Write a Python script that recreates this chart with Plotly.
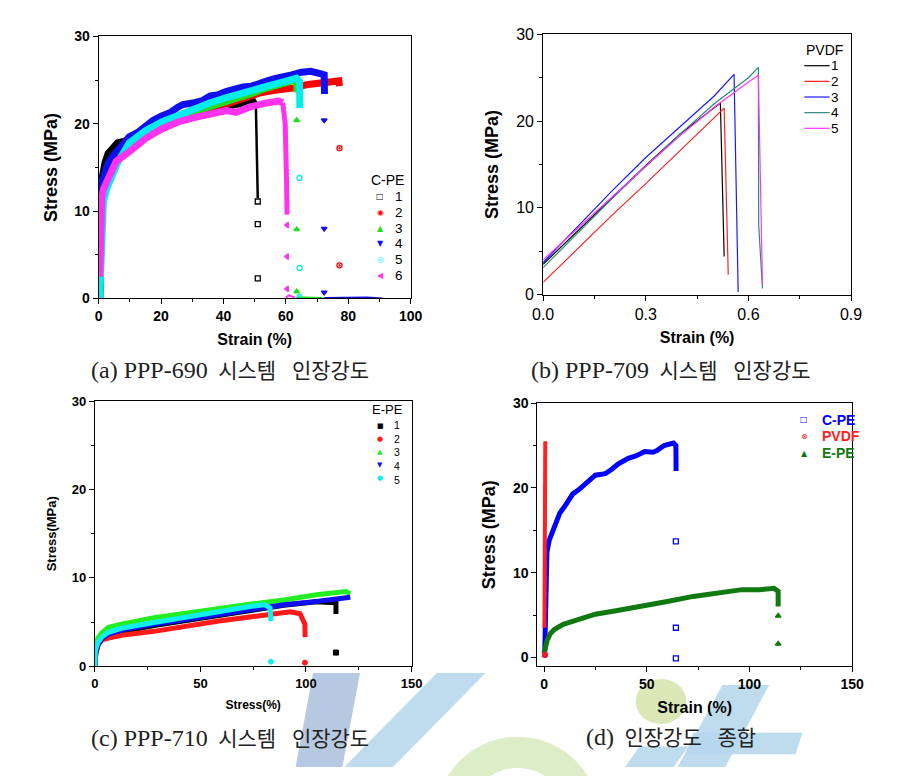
import plotly.graph_objects as go

W, H = 905, 776

# ---------------- (a) PPP-690 : C-PE ----------------
a_title = "C-PE"
a_names = ["1", "2", "3", "4", "5", "6"]
a1_x = [0.3, 0.5, 0.8, 1.2, 2.0, 3.0, 4.5, 6.0, 8.3, 12, 20, 30, 40, 46, 49.4, 50.4]
a1_y = [0.0, 8.0, 12.5, 14.0, 15.5, 16.6, 17.2, 17.8, 18.0, 18.6, 20.0, 21.2, 22.0, 22.4, 22.6, 22.0]
a1_dx = [50.4, 50.8, 51.0]
a1_dy = [22.0, 16.0, 11.5]
a1_px = [51.0, 51.0, 51.0]
a1_py = [11.1, 8.5, 2.3]

a2_x = [0.3, 0.5, 0.8, 1.5, 3, 6, 10, 20, 30, 39, 43.1, 47, 51.5, 57.7, 62.9, 67.1, 72.3, 77.0, 77.2]
a2_y = [0, 7, 11, 13, 14.8, 16.5, 17.8, 19.8, 21.0, 22.05, 22.6, 23.0, 23.5, 23.9, 24.1, 24.5, 24.7, 24.9, 24.3]
a2_px = [77.2, 77.2]
a2_py = [17.2, 3.8]

a3_x = [0.3, 0.5, 0.8, 1.5, 3, 6, 10, 20, 30, 33.8, 40, 46.3, 49.4, 53, 57.7, 62.9, 63.5, 63.6]
a3_y = [0, 7, 11, 13, 14.8, 16.4, 17.8, 20.2, 21.3, 21.7, 22.3, 23.0, 23.5, 24.0, 24.5, 25.0, 24.8, 23.6]
a3_px = [63.5, 63.5, 63.5]
a3_py = [20.4, 7.9, 0.8]
a3_tx = [63.5, 68, 72]
a3_ty = [0.15, 0.1, 0.05]

a4_x = [0.3, 0.5, 0.8, 1.2, 2, 3, 5, 7, 9.8, 12.5, 15, 17.5, 20.2, 23, 25.4, 27, 30.6, 33, 35.8, 38, 41, 43.5,
        46.3, 49, 51.5, 54, 56.7, 59, 61.9, 65, 68, 71.3, 72.3, 72.4]
a4_y = [0, 8, 12, 13.5, 14.6, 15.5, 16.5, 17.4, 18.5, 19.0, 19.8, 20.4, 20.9, 21.3, 21.9, 22.2, 22.4, 22.6, 23.2, 23.3,
        23.7, 24.0, 24.2, 24.3, 24.7, 24.9, 25.2, 25.3, 25.6, 25.9, 26.0, 25.7, 25.6, 23.4]
a4_px = [72.3, 72.3, 72.3]
a4_py = [20.4, 8.0, 0.7]
a4_tx = [72.3, 80, 86, 91]
a4_ty = [0.05, 0.05, 0.1, 0.0]

a5_x = [0.3, 0.6, 1.0, 1.5, 2.5, 3.5, 6, 9.8, 15, 20.2, 25.4, 30.6, 35.8, 41, 46.3, 51.5, 55, 59.8, 63.4, 64.4, 64.5]
a5_y = [0, 2.5, 8, 11, 12.5, 13.5, 15.5, 17.8, 19.2, 20.2, 21.0, 21.7, 22.4, 23.0, 23.6, 24.1, 24.4, 24.85, 25.2, 24.8, 21.8]
a5_px = [64.4, 64.4, 64.4]
a5_py = [13.8, 3.5, 0.15]

a6_x = [0.3, 0.5, 1.0, 1.5, 2.5, 3.5, 5.6, 9.8, 15, 20.2, 25.4, 30.6, 35.8, 41, 44, 48.3, 53.5, 57.7, 59.0]
a6_y = [2.5, 8, 11.5, 12.5, 13.3, 14.3, 15.7, 16.8, 18.3, 19.4, 20.2, 20.7, 21.1, 21.5, 21.3, 21.9, 22.35, 22.6, 22.4]
a6_dx = [59.0, 59.8, 60.2, 60.4]
a6_dy = [22.4, 20.0, 14.0, 9.6]
a6_px = [60.4, 60.4, 60.4]
a6_py = [8.4, 4.8, 1.1]
a6_tx = [60, 61, 63]
a6_ty = [0.1, 0.35, 0.1]

# ---------------- (b) PPP-709 : PVDF ----------------
b_title = "PVDF"
b_names = ["1", "2", "3", "4", "5"]
b1_x = [0, 0.1, 0.2, 0.3, 0.4, 0.5, 0.518, 0.529]
b1_y = [3.5, 7.3, 11.2, 14.9, 18.5, 21.6, 22.1, 4.4]
b2_x = [0, 0.1, 0.2, 0.3, 0.4, 0.5, 0.529, 0.541]
b2_y = [1.4, 5.3, 9.1, 12.8, 16.6, 20.4, 21.5, 2.3]
b3_x = [0, 0.1, 0.2, 0.3, 0.4, 0.5, 0.558, 0.570]
b3_y = [3.7, 7.8, 11.9, 15.8, 19.4, 22.9, 25.4, 0.3]
b4_x = [0, 0.1, 0.2, 0.3, 0.4, 0.5, 0.6, 0.629, 0.630, 0.641]
b4_y = [3.1, 7.1, 11.0, 14.8, 18.5, 22.0, 25.0, 26.2, 8.0, 0.7]
b5_x = [0, 0.1, 0.2, 0.3, 0.4, 0.5, 0.6, 0.629, 0.641]
b5_y = [4.0, 7.6, 11.3, 14.8, 18.3, 21.6, 24.5, 25.3, 1.1]

# ---------------- (c) PPP-710 : E-PE ----------------
c_title = "E-PE"
c_names = ["1", "2", "3", "4", "5"]
c1_x = [0, 0.5, 1.5, 3.4, 6.5, 12.6, 28, 43.4, 58.8, 74.2, 89.5, 104.9, 114.2, 114.2]
c1_y = [0, 1.8, 2.5, 3.0, 3.5, 3.9, 4.6, 5.2, 5.8, 6.4, 6.9, 7.3, 7.2, 5.9]
c1_px = [114.2]
c1_py = [1.55]
c2_x = [0, 0.5, 1.8, 3.4, 6.5, 12.6, 28, 43.4, 58.8, 74.2, 83.4, 92.6, 97.2, 99.5, 99.6]
c2_y = [0, 1.5, 2.7, 3.0, 3.2, 3.5, 3.95, 4.55, 5.13, 5.6, 5.94, 6.16, 5.94, 4.76, 3.3]
c2_px = [99.5]
c2_py = [0.41]
c3_x = [0, 0.3, 1.5, 3.4, 6.5, 12.6, 28, 43.4, 58.8, 74.2, 89.5, 104.9, 118.8, 121]
c3_y = [0, 2.36, 3.2, 3.8, 4.4, 4.76, 5.5, 6.05, 6.6, 7.05, 7.5, 8.1, 8.45, 8.2]
c4_x = [0, 0.5, 1.5, 3.4, 6.5, 12.6, 28, 43.4, 58.8, 74.2, 83.4, 89.5, 104.9, 120.3, 121]
c4_y = [0, 1.5, 2.4, 3.1, 3.65, 4.1, 4.76, 5.3, 5.87, 6.4, 6.8, 6.97, 7.34, 7.9, 7.8]
c5_x = [0, 0.3, 1.5, 3.4, 6.5, 12.6, 28, 43.4, 58.8, 74.2, 80.3, 83.0, 83.4]
c5_y = [0, 1.8, 2.7, 3.3, 3.84, 4.3, 4.95, 5.6, 6.23, 6.8, 6.97, 6.6, 5.1]
c5_px = [83.4]
c5_py = [0.52]

# ---------------- (d) summary ----------------
d_names = ["C-PE", "PVDF", "E-PE"]
d1_x = [0.0, 0.3, 0.6, 1.0, 1.4, 2.5, 4.6, 7.6, 10, 14, 17, 20.4, 25, 28, 30, 33, 36, 41, 45, 49, 53, 55, 58.4, 63, 64.2, 64.3]
d1_y = [0.0, 0.3, 3.5, 10, 12.4, 13.8, 15.1, 17.0, 17.8, 19.3, 19.8, 20.5, 21.5, 21.6, 21.7, 22.2, 22.8, 23.5, 23.8, 24.3, 24.2, 24.4, 25.0, 25.3, 25.0, 22.0]
d1_px = [64.2, 64.2, 64.2]
d1_py = [13.7, 3.5, -0.1]
d2_x = [0.2, 0.3, 0.4, 0.5, 0.55, 0.6]
d2_y = [3.5, 9.0, 14.0, 19.5, 23.0, 25.5]
d2_px = [0.5]
d2_py = [0.3]
d3_x = [0.0, 0.5, 1.5, 3, 5, 9.3, 15, 25, 35, 49, 60, 72.6, 85, 96.4, 105, 112, 114, 114]
d3_y = [0.5, 1.0, 2.0, 2.8, 3.3, 3.9, 4.3, 5.1, 5.5, 6.2, 6.6, 7.2, 7.6, 8.0, 8.0, 8.15, 7.8, 6.0]
d3_px = [114, 114]
d3_py = [4.9, 1.6]

cap_latin = ["(a) PPP-690", "(b) PPP-709", "(c) PPP-710", "(d)"]
cap_korean = ["시스템   인장강도", "시스템   인장강도", "시스템   인장강도", "인장강도   종합"]

# ---------------- figure ----------------
fig = go.Figure()

SANS = "Liberation Sans, Arial, sans-serif"
NARROW = "Liberation Sans Narrow, Arial Narrow, Liberation Sans, sans-serif"
GLYPH = "DejaVu Sans, sans-serif"


def band(x, y, color, width, xa, ya, name=None):
    fig.add_trace(go.Scatter(x=x, y=y, mode="lines", line=dict(color=color, width=width), name=name,
                             showlegend=False, xaxis=xa, yaxis=ya))


def pts(x, y, color, symbol, size, name, xa, ya, lw=1):
    fig.add_trace(go.Scatter(x=x, y=y, mode="markers", name=name, showlegend=False,
                             marker=dict(color=color, symbol=symbol, size=size,
                                         line=dict(color=color, width=lw)),
                             xaxis=xa, yaxis=ya))


def label(xp, yp, text, size, color="black", family=SANS, anchor="left"):
    fig.add_annotation(x=xp / W, y=1 - yp / H, xref="paper", yref="paper", text=text, showarrow=False,
                       xanchor=anchor, yanchor="middle", font=dict(family=family, size=size, color=color))


# ---------------- faint publisher watermark (bottom) ----------------
def poly(points, color):
    p = "M " + " L ".join("%.4f,%.4f" % (x / W, 1 - y / H) for x, y in points) + " Z"
    fig.add_shape(type="path", path=p, xref="paper", yref="paper", fillcolor=color,
                  line=dict(width=0), layer="below")


def ellipse(cx, cy, rx, ry, color):
    fig.add_shape(type="circle", xref="paper", yref="paper", x0=(cx - rx) / W, x1=(cx + rx) / W,
                  y0=1 - (cy + ry) / H, y1=1 - (cy - ry) / H, fillcolor=color, line=dict(width=0), layer="below")


ellipse(520, 829, 84, 84, "rgba(215,234,190,0.85)")
ellipse(520, 829, 52, 52, "white")
poly([(310, 680), (358, 680), (340, 776), (292, 776)], "rgba(170,192,218,0.85)")
poly([(437, 680), (487, 680), (392, 776), (342, 776)], "rgba(180,214,236,0.85)")
ellipse(667, 709, 26, 23, "rgba(214,230,176,0.9)")
poly([(645, 755), (695, 755), (680, 776), (630, 776)], "rgba(180,214,236,0.85)")
poly([(730, 692), (778, 692), (733, 776), (684, 776)], "rgba(180,214,236,0.85)")
poly([(700, 741), (812, 741), (805, 763), (692, 763)], "rgba(180,214,236,0.85)")

# (a)
a_cols = ["#000000", "#ff0000", "#22dd22", "#1010ee", "#00eeee", "#ff33ee"]
a_syms = ["square-open", "circle-open-dot", "triangle-up", "triangle-down", "circle-open", "triangle-left"]
a_glyph = ["□", "◉", "▲", "▼", "◎", "◀"]
a_curves = [(a1_x, a1_y, a1_px, a1_py), (a2_x, a2_y, a2_px, a2_py), (a3_x, a3_y, a3_px, a3_py),
            (a4_x, a4_y, a4_px, a4_py), (a5_x, a5_y, a5_px, a5_py), (a6_x, a6_y, a6_px, a6_py)]
for i, (cx, cy, qx, qy) in enumerate(a_curves):
    band(cx, cy, a_cols[i], 7, "x", "y", a_names[i])
    if i == 0:
        band(a1_dx, a1_dy, a_cols[0], 2.5, "x", "y")
    if i == 5:
        band(a6_dx, a6_dy, a_cols[5], 5, "x", "y")
band(a3_tx, a3_ty, a_cols[2], 2, "x", "y")
band(a4_tx, a4_ty, a_cols[3], 2, "x", "y")
band(a6_tx, a6_ty, a_cols[5], 2, "x", "y")
for i, (cx, cy, qx, qy) in enumerate(a_curves):
    pts(qx, qy, a_cols[i], a_syms[i], 5, a_names[i], "x", "y", 1.3)

# (b)
b_cols = ["#000000", "#ff2020", "#1a1aff", "#2a8a7a", "#ff33ff"]
b_data = [(b1_x, b1_y), (b2_x, b2_y), (b3_x, b3_y), (b4_x, b4_y), (b5_x, b5_y)]
for i, (bx, by) in enumerate(b_data):
    fig.add_trace(go.Scatter(x=bx, y=by, mode="lines", name=b_names[i], showlegend=False,
                             line=dict(color=b_cols[i], width=1.2), xaxis="x2", yaxis="y2"))

# (c)
c_cols = ["#000000", "#ff1a1a", "#22ee22", "#1010ee", "#11eeee"]
c_glyph = ["■", "●", "▲", "▼", "●"]
c_data = [(c1_x, c1_y), (c2_x, c2_y), (c3_x, c3_y), (c4_x, c4_y), (c5_x, c5_y)]
for i, (cx, cy) in enumerate(c_data):
    band(cx, cy, c_cols[i], 5, "x3", "y3", c_names[i])
pts(c1_px, c1_py, c_cols[0], "square", 5, c_names[0], "x3", "y3")
pts(c2_px, c2_py, c_cols[1], "circle", 5, c_names[1], "x3", "y3")
pts(c5_px, c5_py, c_cols[4], "circle", 5, c_names[4], "x3", "y3")

# (d)
d_cols = ["#0000ff", "#ff2020", "#107a10"]
d_glyph = ["□", "⊗", "▲"]
band(d1_x, d1_y, d_cols[0], 5, "x4", "y4", d_names[0])
band(d2_x, d2_y, d_cols[1], 4, "x4", "y4", d_names[1])
band(d3_x, d3_y, d_cols[2], 5, "x4", "y4", d_names[2])
d_syms = ["square-open", "circle-x-open", "triangle-up"]
d_pts = [(d1_px, d1_py), (d2_px, d2_py), (d3_px, d3_py)]
for i, (qx, qy) in enumerate(d_pts):
    pts(qx, qy, d_cols[i], d_syms[i], 5, d_names[i], "x4", "y4", 1.3)

# ---------------- legends (key glyph + text) ----------------
label(367, 176, a_title, 14, family=NARROW)
for i, n in enumerate(a_names):
    yy = 193 + 16 * i
    label(379, yy, a_glyph[i], 8, a_cols[i], GLYPH, "center")
    label(398, yy, n, 13.5, anchor="center")

label(814, 43, b_title, 14, family=NARROW)
for i, n in enumerate(b_names):
    yy = 59 + 16 * i
    fig.add_shape(type="line", xref="paper", yref="paper", x0=814 / W, x1=840 / W, y0=1 - yy / H, y1=1 - yy / H,
                  line=dict(color=b_cols[i], width=1.2))
    label(846, yy, n, 13.5, anchor="center")

label(368, 411, c_title, 13, family=NARROW)
for i, n in enumerate(c_names):
    yy = 427 + 13.5 * i
    label(379, yy, c_glyph[i], 7, c_cols[i], GLYPH, "center")
label(396, 454, "<br>".join(c_names), 10.5, anchor="center")

for i, n in enumerate(d_names):
    yy = 421 + 17 * i
    label(814, yy, d_glyph[i], 8, d_cols[i], GLYPH, "center")
    label(830, yy, "<b>%s</b>" % n, 14, d_cols[i], NARROW)


def dom_x(l, r):
    return [l / W, r / W]


def dom_y(t, b):
    return [1 - b / H, 1 - t / H]


def ax(domain, rng, dtick, mdtick, anchor, title, tsize, fsize, bold=True, standoff=10, fmt=None, fam=NARROW):
    d = dict(domain=domain, range=rng, dtick=dtick, tick0=0, anchor=anchor,
             showline=True, mirror=True, linecolor="black", linewidth=1,
             ticks="outside", ticklen=5, tickcolor="black", showgrid=False, zeroline=False,
             minor=dict(dtick=mdtick, ticks="outside", ticklen=3, tickcolor="black", showgrid=False),
             tickfont=dict(family=fam, size=fsize, color="black", weight="bold" if bold else "normal"),
             title=dict(text=title, standoff=standoff,
                        font=dict(family=SANS, size=tsize, color="black", weight="bold")))
    if fmt:
        d["tickformat"] = fmt
    return d


fig.update_layout(
    width=W, height=H, margin=dict(l=0, r=0, t=0, b=0),
    paper_bgcolor="white", plot_bgcolor="white", showlegend=False,
    xaxis=ax(dom_x(90, 410), [0, 100], 20, 10, "y", "Strain (%)", 16, 14, standoff=10),
    yaxis=ax(dom_y(29, 297), [0, 30], 10, 5, "x", "Stress (MPa)", 18, 14, standoff=12),
    xaxis2=ax(dom_x(546, 862), [0, 0.9], 0.3, 0.15, "y2", "Strain (%)", 16, 16, bold=False, standoff=10,
              fmt=".1f", fam=SANS),
    yaxis2=ax(dom_y(27, 293), [0, 30], 10, 5, "x2", "Stress (MPa)", 18, 16, bold=False, standoff=12, fam=SANS),
    xaxis3=ax(dom_x(86, 411), [0, 150], 50, 25, "y3", "Stress(%)", 12, 13, standoff=10),
    yaxis3=ax(dom_y(402, 673), [0, 30], 10, 5, "x3", "Stress(MPa)", 13, 13, standoff=12),
    xaxis4=ax(dom_x(540, 863), [-3.3, 150], 50, 25, "y4", "Strain (%)", 16, 14, standoff=10),
    yaxis4=ax(dom_y(404, 673), [-1.04, 30], 10, 5, "x4", "Stress (MPa)", 18, 14, standoff=12),
)

cap_pos = [(80, 370), (532, 370), (80, 746), (588, 745)]
for (cx, cy), lt, kt in zip(cap_pos, cap_latin, cap_korean):
    t = "<span style='font-size:24px'>%s</span>  %s" % (lt, kt)
    fig.add_annotation(x=cx / W, y=1 - cy / H, xref="paper", yref="paper", text=t, showarrow=False,
                       xanchor="left", yanchor="middle",
                       font=dict(family="Liberation Serif, Noto Sans CJK KR, serif", size=21, color="#222"))

fig.write_html("out.html", config={"displayModeBar": False},
               post_script="document.body.style.margin='0';document.body.style.overflow='hidden';")
